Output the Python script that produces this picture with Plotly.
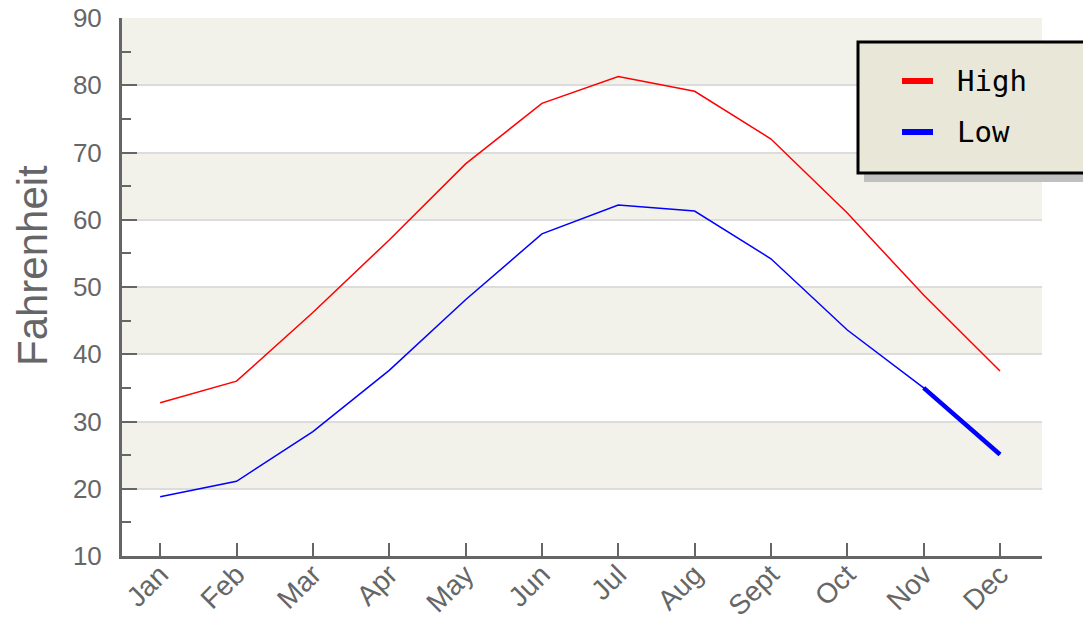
import plotly.graph_objects as go

months = ["Jan", "Feb", "Mar", "Apr", "May", "Jun", "Jul", "Aug", "Sept", "Oct", "Nov", "Dec"]
high = [32.8, 36.0, 46.2, 57.0, 68.3, 77.3, 81.3, 79.1, 72.0, 61.0, 48.8, 37.5]
low = [18.8, 21.1, 28.5, 37.6, 48.1, 57.9, 62.2, 61.3, 54.2, 43.6, 35.0, 25.1]
series_names = ["High", "Low"]
series_colors = ["#ff0000", "#0000ff"]
y_ticks = [10, 20, 30, 40, 50, 60, 70, 80, 90]
y_title = "Fahrenheit"

# the page body has an 8px margin, so the figure is slightly smaller and offset
OFF = 8
W, H = 1091 - OFF, 619 - OFF
L, R, T, B = 122 - OFF, 49, 18 - OFF, 63
PW, PH = W - L - R, H - T - B


def px_x(px):
    return (px - OFF - L) / PW


def px_y(py):
    return (H - B - (py - OFF)) / PH


fig = go.Figure()
xi = list(range(len(months)))
fig.add_trace(go.Scatter(x=xi, y=high, mode="lines", name=series_names[0],
                         line=dict(color=series_colors[0], width=1.5), showlegend=False))
fig.add_trace(go.Scatter(x=xi, y=low, mode="lines", name=series_names[1],
                         line=dict(color=series_colors[1], width=1.5), showlegend=False))
# highlighted (thicker) last segment of Low
fig.add_trace(go.Scatter(x=xi[-2:], y=low[-2:], mode="lines", showlegend=False,
                         line=dict(color=series_colors[1], width=4.5)))

shapes = []
# alternating bands
for i in range(len(y_ticks) - 1):
    if (len(y_ticks) - 2 - i) % 2 == 0:
        shapes.append(dict(type="rect", xref="paper", yref="y", x0=0, x1=1,
                           y0=y_ticks[i], y1=y_ticks[i + 1],
                           fillcolor="#f3f2ea", line=dict(width=0), layer="below"))

# legend box (drawn manually to match the reference look)
box_l, box_t, box_r, box_b = 858, 42, 1100, 173
shapes.append(dict(type="rect", xref="paper", yref="paper",
                   x0=px_x(box_l + 6), x1=px_x(box_r + 6), y0=px_y(box_b + 9), y1=px_y(box_t + 9),
                   fillcolor="#c0c0c0", line=dict(width=0), layer="above"))
shapes.append(dict(type="rect", xref="paper", yref="paper",
                   x0=px_x(box_l), x1=px_x(box_r), y0=px_y(box_b), y1=px_y(box_t),
                   fillcolor="#e9e8d8", line=dict(color="black", width=3), layer="above"))
annotations = []
for k, (name, col) in enumerate(zip(series_names, series_colors)):
    yy = 81 + k * 51
    shapes.append(dict(type="line", xref="paper", yref="paper",
                       x0=px_x(902), x1=px_x(933), y0=px_y(yy), y1=px_y(yy),
                       line=dict(color=col, width=6), layer="above"))
    annotations.append(dict(xref="paper", yref="paper", x=px_x(955), y=px_y(yy),
                            xanchor="left", yanchor="middle", text=name, showarrow=False,
                            font=dict(family="DejaVu Sans Mono", size=29, color="black")))

# y axis title placed as in the reference (slightly above centre)
annotations.append(dict(xref="paper", yref="paper", x=px_x(32), y=px_y(266),
                        xanchor="center", yanchor="middle", text=y_title, textangle=-90,
                        showarrow=False,
                        font=dict(family="Liberation Sans", size=42, color="#666666")))

fig.update_layout(
    width=W, height=H,
    margin=dict(l=L, r=R, t=T, b=B, autoexpand=False),
    paper_bgcolor="white", plot_bgcolor="white",
    shapes=shapes, annotations=annotations,
    showlegend=False,
)
fig.update_xaxes(
    range=[-0.5, 11.55], tickmode="array", tickvals=xi, ticktext=months,
    tickangle=-45, showgrid=False, zeroline=False,
    showline=True, linecolor="#666666", linewidth=3,
    ticks="inside", ticklen=13, tickwidth=2, tickcolor="#666666",
    tickfont=dict(family="Liberation Sans", size=28, color="#666666"),
    ticklabelstandoff=-12, ticklabeloverflow="allow",
)
fig.update_yaxes(
    range=[10, 90], tickmode="array", tickvals=y_ticks,
    showgrid=True, gridcolor="#dcdcdc", gridwidth=2, zeroline=False,
    showline=True, linecolor="#666666", linewidth=3,
    ticks="inside", ticklen=15, tickwidth=2, tickcolor="#666666",
    minor=dict(ticks="inside", ticklen=9, tickwidth=2, tickcolor="#666666", dtick=5, tick0=5, showgrid=False),
    tickfont=dict(family="Liberation Sans", size=26, color="#666666"),
    ticklabelstandoff=12, ticklabeloverflow="allow",
)

fig.write_html("out.html")
